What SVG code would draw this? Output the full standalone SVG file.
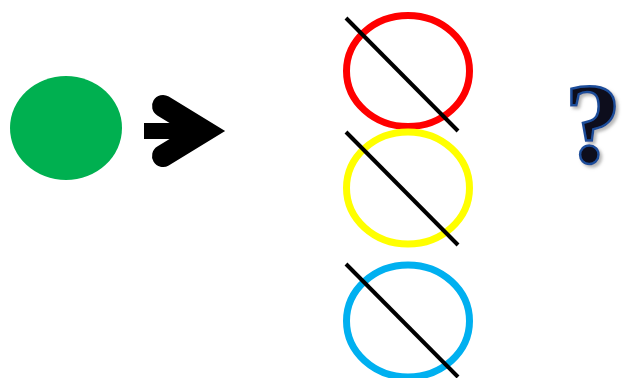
<svg xmlns="http://www.w3.org/2000/svg" width="622" height="378" viewBox="0 0 622 378">
<defs>
<filter id="sh" x="-20%" y="-20%" width="150%" height="150%"><feDropShadow dx="2.5" dy="2.5" stdDeviation="1.5" flood-color="#999" flood-opacity="0.7"/></filter>
</defs>
<style>
.ring{fill:none;stroke-width:7}
.slash{stroke:#000;stroke-width:4}
.q{font-family:"Liberation Serif",serif;font-weight:bold;font-size:114px;text-anchor:middle}
</style>
<rect width="622" height="378" fill="#fff"/>
<g id="green"><ellipse cx="66" cy="128" rx="56" ry="52" fill="#00B050"/></g>
<g id="connectors"><rect x="144" y="123" width="56" height="16" fill="#000"/><path d="M163 106 L204 131 L163 156" fill="none" stroke="#000" stroke-width="22" stroke-linecap="round" stroke-linejoin="miter" stroke-miterlimit="10"/></g>
<g id="red"><ellipse cx="408" cy="71" rx="61.5" ry="55.5" class="ring" stroke="#FF0000"/><line x1="346" y1="18" x2="458" y2="131" class="slash"/></g>
<g id="yellow"><ellipse cx="408" cy="188" rx="61.5" ry="56" class="ring" stroke="#FFFF00"/><line x1="346" y1="132" x2="458" y2="245" class="slash"/></g>
<g id="blue"><ellipse cx="408" cy="321" rx="61.5" ry="56" class="ring" stroke="#00B0F0"/><line x1="346" y1="264" x2="458" y2="377" class="slash"/></g>
<g id="question"><text x="593" y="162" class="q" fill="#0b0b1e" stroke="#1F4E9A" stroke-width="2.5" filter="url(#sh)">?</text></g>
</svg>
